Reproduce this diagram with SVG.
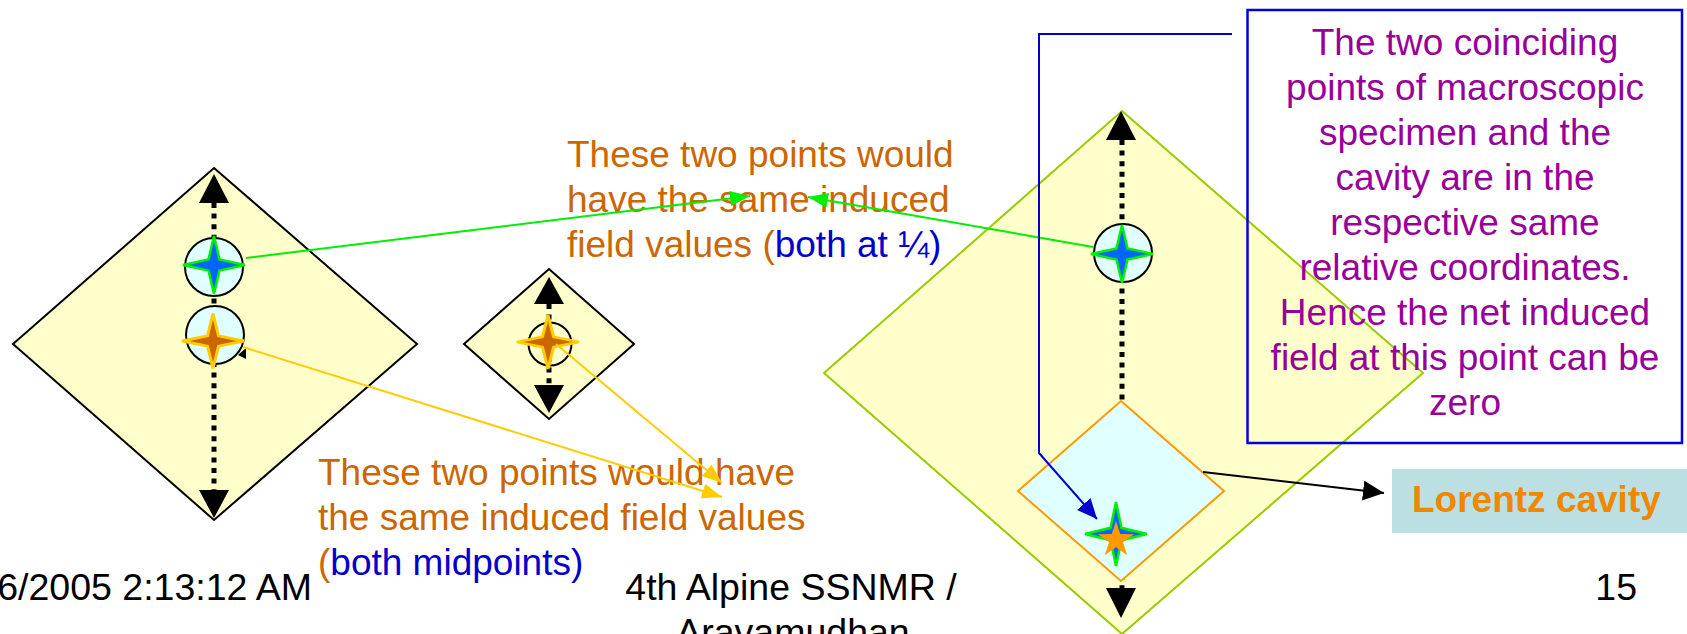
<svg xmlns="http://www.w3.org/2000/svg" xmlns:xlink="http://www.w3.org/1999/xlink" width="1687" height="634" viewBox="0 0 1687 634">
<style>
  .txt { font-family: "Liberation Sans", Arial, sans-serif; font-size: 37px; }
  .orange { fill: #cc6600; }
  .blue { fill: #0000cc; }
  .purple { fill: #990099; }
  .black { fill: #000000; }
  .dia { fill: #ffffcc; stroke: #000000; stroke-width: 2; }
  .dots { stroke: #000000; stroke-width: 5; stroke-dasharray: 5 5.6; fill: none; }
  .circ { fill: #e0ffff; stroke: #000000; stroke-width: 2; }
  .starB { fill: #0066ff; stroke: #00ee00; stroke-width: 2.5; }
  .starO { fill: #cc6600; stroke: #ffcc00; stroke-width: 3; }
  .head { fill: #000000; }
</style>
<defs>
  <path id="star4" d="M0,-29 L5.5,-5.5 L31,0 L5.5,5.5 L0,29 L-5.5,5.5 L-31,0 L-5.5,-5.5 Z"/>
  <marker id="mGreen" markerUnits="userSpaceOnUse" markerWidth="22" markerHeight="16" refX="20" refY="7.5" orient="auto"><path d="M0,0 L20,7.5 L0,15 Z" fill="#00ee00"/></marker>
  <marker id="mYellow" markerUnits="userSpaceOnUse" markerWidth="22" markerHeight="16" refX="20" refY="7.5" orient="auto"><path d="M0,0 L20,7.5 L0,15 Z" fill="#ffcc00"/></marker>
  <marker id="mBlack" markerUnits="userSpaceOnUse" markerWidth="22" markerHeight="21" refX="21" refY="10" orient="auto"><path d="M0,0 L21,10 L0,20 Z" fill="#000000"/></marker>
  <marker id="mBlue" markerUnits="userSpaceOnUse" markerWidth="22" markerHeight="19" refX="20" refY="9" orient="auto"><path d="M0,0 L20,9 L0,18 Z" fill="#0000cc"/></marker>
</defs>

<g id="left-specimen">
  <polygon class="dia" points="214,168 417,344 214,520 13,344"/>
  <line class="dots" x1="214" y1="203" x2="214" y2="491"/>
  <polygon class="head" points="214,174 199,203 229,203"/>
  <polygon class="head" points="214,518 199,490 229,490"/>
  <circle class="circ" cx="214" cy="267" r="29"/>
  <use xlink:href="#star4" class="starB" transform="translate(214,265)"/>
  <circle class="circ" cx="215" cy="335" r="29"/>
  <use xlink:href="#star4" class="starO" transform="translate(213,341) scale(1,0.95)"/>
  <polygon class="head" points="246,348 246,359 238,355"/>
</g>

<g id="small-specimen">
  <polygon class="dia" points="549,269 634,344 549,419 464,344"/>
  <line class="dots" x1="549" y1="304" x2="549" y2="386"/>
  <polygon class="head" points="549,277 534,304 564,304"/>
  <polygon class="head" points="549,413 534,385 564,385"/>
  <circle cx="550" cy="344" r="21.5" fill="none" stroke="#000000" stroke-width="2"/>
  <use xlink:href="#star4" class="starO" transform="translate(548,342) scale(1,0.93)"/>
</g>

<g id="large-specimen">
  <polygon points="1122,111 1423,373 1122,634 824,373" fill="#ffffcc" stroke="#99cc00" stroke-width="2"/>
  <line class="dots" x1="1122" y1="140" x2="1122" y2="588"/>
  <polygon class="head" points="1121,111 1106,140 1136,140"/>
  <polygon class="head" points="1121,618 1106,588 1136,588"/>
  <circle class="circ" cx="1123" cy="253" r="29"/>
  <use xlink:href="#star4" class="starB" transform="translate(1122,254)"/>
</g>

<g id="lorentz-cavity">
  <polygon points="1121,401 1224,491 1121,581 1018,491" fill="#e0ffff" stroke="#ff9900" stroke-width="2"/>
  <use xlink:href="#star4" class="starB" transform="translate(1116,534) scale(1,1.1)"/>
  <polygon fill="#ff9900" transform="translate(1116,540)" points="0,-19 4.29,-5.91 18.07,-5.87 6.94,2.26 11.17,15.37 0,7.3 -11.17,15.37 -6.94,2.26 -18.07,-5.87 -4.29,-5.91"/>
</g>

<g id="label-quarter">
  <text class="txt orange" x="567" y="167">These two points would</text>
  <text class="txt orange" x="567" y="212">have the same induced</text>
  <text class="txt orange" x="567" y="257">field values (<tspan class="blue">both at ¼)</tspan></text>
</g>

<g id="label-mid">
  <text class="txt orange" x="318" y="485">These two points would have</text>
  <text class="txt orange" x="318" y="530">the same induced field values</text>
  <text class="txt orange" x="318" y="575">(<tspan class="blue">both midpoints)</tspan></text>
</g>

<g id="note-box">
  <rect x="1247.5" y="10" width="434.5" height="433" fill="none" stroke="#0000dd" stroke-width="2.5"/>
  <g class="txt purple" text-anchor="middle">
    <text x="1465" y="55">The two coinciding</text>
    <text x="1465" y="100">points of macroscopic</text>
    <text x="1465" y="145">specimen and the</text>
    <text x="1465" y="190">cavity are in the</text>
    <text x="1465" y="235">respective same</text>
    <text x="1465" y="280">relative coordinates.</text>
    <text x="1465" y="325">Hence the net induced</text>
    <text x="1465" y="370">field at this point can be</text>
    <text x="1465" y="415">zero</text>
  </g>
</g>

<g id="lorentz-label">
  <rect x="1392" y="469" width="295" height="64" fill="#bbdfe2"/>
  <text class="txt" x="1412" y="512" font-weight="bold" fill="#ee8800">Lorentz cavity</text>
</g>

<g id="connectors" fill="none">
  <line x1="246" y1="258" x2="750" y2="196" stroke="#00ee00" stroke-width="2" marker-end="url(#mGreen)"/>
  <line x1="1093" y1="247" x2="808" y2="197" stroke="#00ee00" stroke-width="2" marker-end="url(#mGreen)"/>
  <line x1="243" y1="347" x2="722" y2="497" stroke="#ffcc00" stroke-width="2" marker-end="url(#mYellow)"/>
  <line x1="556" y1="344" x2="722" y2="483" stroke="#ffcc00" stroke-width="2" marker-end="url(#mYellow)"/>
  <line x1="1203" y1="472" x2="1384" y2="493" stroke="#000000" stroke-width="2" marker-end="url(#mBlack)"/>
  <polyline points="1232,34 1039,34 1039,453 1097,519" stroke="#0000cc" stroke-width="2" marker-end="url(#mBlue)"/>
</g>

<g id="footer" class="txt black">
  <text x="312" y="600" text-anchor="end" font-size="37.5">6/2005 2:13:12 AM</text>
  <text x="791" y="600" text-anchor="middle" font-size="37.5">4th Alpine SSNMR /</text>
  <text x="793" y="645" text-anchor="middle" font-size="37.5">Aravamudhan</text>
  <text x="1637" y="600" text-anchor="end" font-size="37.5">15</text>
</g>
</svg>
